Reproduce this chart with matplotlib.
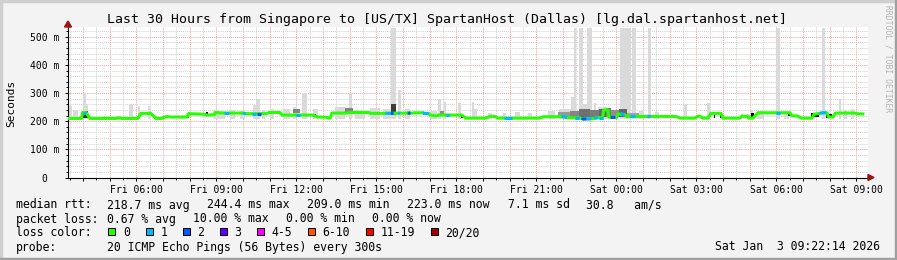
import numpy as np
import matplotlib
matplotlib.use("Agg")
import matplotlib.pyplot as plt
from matplotlib.patches import Rectangle, Polygon
from matplotlib.ticker import MultipleLocator, FuncFormatter

# time is in hours since Fri 00:00 (values above 24 are Saturday)
t_start = 3 + 26 / 60
t_end = t_start + 30

# median rtt (ms)
med_t = [3.43, 3.94, 3.98, 4.12, 4.18, 4.25, 5.25, 5.28, 5.40, 5.43, 6.05, 6.17, 6.54, 6.73,
         6.95, 7.01, 7.14, 7.25, 7.91, 7.95, 8.53, 8.64, 8.92, 8.96, 9.20, 9.99, 10.06, 10.89,
         10.96, 11.38, 11.46, 12.62, 12.80, 13.14, 13.21, 13.26, 13.33, 13.93, 13.96, 14.72,
         14.76, 15.35, 16.37, 16.41, 16.74, 16.78, 16.97, 17.01, 17.23, 17.31, 18.20, 18.35,
         19.07, 19.25, 19.44, 19.56, 21.09, 21.28, 22.05, 22.15, 22.60, 22.75, 23.10, 23.30,
         23.48, 23.52, 23.68, 23.72, 24.00, 24.06, 24.30, 24.38, 26.23, 26.38, 26.94, 27.06,
         27.13, 27.24, 27.43, 27.54, 27.92, 27.99, 28.63, 28.71, 28.82, 28.93, 28.96, 29.12,
         29.31, 30.51, 30.58, 30.77, 30.95, 31.33, 31.41, 31.63, 31.71, 31.89, 31.96, 32.12,
         32.21, 32.94, 33.01, 33.24]
med_v = [210, 210, 231, 231, 221, 210, 210, 212, 212, 210, 210, 228, 228, 210,
         210, 213, 217, 215, 215, 227, 225, 222, 223, 231, 229, 229, 227, 227,
         231, 231, 222, 222, 215, 214, 211, 211, 229, 229, 231, 231,
         228, 228, 229, 230, 230, 228, 227, 222, 219, 222, 222, 211,
         211, 217, 217, 211, 211, 216, 216, 212, 212, 208, 209, 213,
         213, 240, 240, 214, 213, 226, 224, 217, 217, 211, 211, 218,
         218, 211, 211, 228, 228, 211, 211, 219, 216, 219, 211, 211,
         230, 230, 219, 219, 211, 211, 225, 228, 230, 230, 215, 215,
         229, 229, 227, 226]

# periods with packet loss (number of lost pings out of 20)
loss_t0 = [3.98, 9.28, 9.99, 10.32, 10.51, 11.97, 15.34, 15.53, 15.79, 16.17, 16.73, 17.59,
           19.77, 21.94, 22.43, 22.69, 22.88, 23.17, 23.36, 23.78, 24.15, 24.52, 25.16, 29.99, 31.61]
loss_t1 = [4.12, 9.46, 10.10, 10.47, 10.66, 12.12, 15.53, 15.64, 15.87, 16.28, 16.96, 17.71,
           20.07, 22.13, 22.58, 22.88, 23.06, 23.30, 23.48, 23.96, 24.30, 24.71, 25.27, 30.14, 31.87]
loss_n = [1, 1, 1, 1, 2, 1, 1, 2, 1, 2, 1, 1,
          1, 1, 1, 2, 1, 1, 1, 2, 1, 1, 1, 1, 1]

# light smoke: spread of the 20 pings (top value, ms)
smoke_t0 = [3.43, 3.62, 3.99, 4.10, 5.72, 6.05, 6.43, 8.86, 9.05, 9.50, 9.87, 10.36, 10.47,
            10.70, 11.00, 11.49, 11.86, 12.20, 12.61, 13.43, 13.96, 14.18, 14.75, 15.23, 15.53,
            15.79, 16.06, 17.00, 17.29, 17.52, 18.04, 18.57, 18.64, 19.20, 19.73, 20.18, 20.67,
            21.42, 21.86, 22.31, 22.39, 22.61, 22.76, 22.88, 23.14, 23.29, 23.59, 24.15, 24.41,
            24.60, 24.86, 25.20, 25.43, 26.55, 27.41, 29.06, 29.28, 29.99, 30.29, 31.72, 32.36,
            32.54, 32.81]
smoke_t1 = [3.58, 3.80, 4.10, 4.18, 5.87, 6.13, 6.50, 9.05, 9.31, 9.69, 10.06, 10.47, 10.62,
            10.81, 11.15, 11.75, 12.01, 12.39, 12.80, 13.81, 14.07, 14.56, 15.12, 15.50, 15.72,
            15.91, 16.25, 17.26, 17.41, 17.59, 18.16, 18.64, 18.76, 19.32, 19.84, 20.37, 20.82,
            21.68, 22.31, 22.39, 22.50, 22.73, 22.88, 23.10, 23.25, 23.59, 23.81, 24.38, 24.53,
            24.75, 25.05, 25.31, 25.61, 26.66, 27.49, 29.13, 29.54, 30.14, 30.48, 31.83, 32.43,
            32.66, 32.92]
smoke_hi = [255, 240, 300, 262, 261, 254, 254, 239, 236, 240, 235, 258, 279,
            240, 244, 242, 250, 301, 245, 250, 300, 240, 246, 245, 532,
            311, 245, 238, 279, 270, 265, 270, 245, 230, 228, 232, 230,
            235, 245, 285, 532, 532, 260, 532, 265, 250, 245, 532, 532,
            532, 235, 532, 232, 261, 265, 240, 235, 532, 238, 532, 279,
            240, 245]

# denser smoke near the median (0 = light, 1 = black)
dense_t0 = [3.95, 11.86, 13.81, 15.53, 17.37,
            21.79, 22.24, 22.61, 22.99, 23.36, 23.59, 23.81, 24.11, 24.38,
            7.89, 8.60, 12.61, 13.10, 18.16, 27.64, 27.90, 29.06, 30.45, 31.31, 31.87]
dense_t1 = [4.18, 12.12, 14.11, 15.72, 17.52,
            22.24, 22.61, 22.99, 23.36, 23.59, 23.81, 24.11, 24.38, 24.86,
            7.96, 8.68, 12.72, 13.17, 18.23, 27.71, 27.97, 29.17, 30.56, 31.61, 32.10]
dense_lo = [212, 228, 230, 222, 226,
            212, 212, 214, 212, 214, 216, 214, 216, 216,
            213, 222, 215, 211, 212, 211, 211, 211, 219, 215, 213]
dense_hi = [238, 242, 246, 262, 238,
            232, 238, 242, 240, 245, 246, 240, 242, 230,
            228, 232, 224, 218, 222, 228, 228, 230, 230, 230, 227]
dense_level = [0.8, 0.4, 0.4, 0.75, 0.35,
               0.3, 0.4, 0.5, 0.45, 0.55, 0.45, 0.35, 0.55, 0.25,
               1.0, 1.0, 1.0, 1.0, 1.0, 1.0, 1.0, 1.0, 1.0, 1.0, 1.0]

loss_labels = ['0', '1', '2', '3', '4-5', '6-10', '11-19', '20/20']
loss_cols = ['#26ff00', '#00b8ff', '#0059ff', '#5e00ff', '#ff00ff', '#ff5500', '#ff0000', '#a00000']

title = 'Last 30 Hours from Singapore to [US/TX] SpartanHost (Dallas) [lg.dal.spartanhost.net]'
rtt_stats = ['218.7 ms avg', '244.4 ms max', '209.0 ms min', '223.0 ms now', '7.1 ms sd', '30.8   am/s']
loss_stats = ['0.67 % avg', '10.00 % max', '0.00 % min', '0.00 % now']
probe = '20 ICMP Echo Pings (56 Bytes) every 300s'
stamp = 'Sat Jan  3 09:22:14 2026'


def loss_color(n):
    if n <= 3:
        return loss_cols[n]
    if n <= 5:
        return loss_cols[4]
    if n <= 10:
        return loss_cols[5]
    if n <= 19:
        return loss_cols[6]
    return loss_cols[7]


W, H = 897, 260
fig = plt.figure(figsize=(W / 100, H / 100), dpi=100)
fig.patch.set_facecolor('#f3f3f3')
mono = 'DejaVu Sans Mono'


def fx(px):
    return px / W


def fy(py):
    return 1 - py / H


ax = fig.add_axes([fx(68), fy(177.5), 800 / W, 150.8 / H])
ax.set_facecolor('white')
ax.set_xlim(t_start, t_end)
ax.set_ylim(0, 536)
ax.set_axisbelow(True)

# grid
ax.yaxis.set_major_locator(MultipleLocator(100))
ax.yaxis.set_minor_locator(MultipleLocator(20))
ax.xaxis.set_major_locator(MultipleLocator(1))
ax.xaxis.set_minor_locator(MultipleLocator(0.5))
ax.grid(which='major', color='#f4a4a4', lw=0.75, ls=(0, (1, 1)))
ax.grid(which='minor', color='#d2d2d2', lw=0.75, ls=(0, (1, 1)))


def xfmt(v, pos):
    h = int(round(v))
    if h % 3:
        return ''
    day = 'Fri' if h < 24 else 'Sat'
    return '%s %02d:00' % (day, h % 24)


def yfmt(v, pos):
    if v == 0:
        return '0  '
    return '%d m' % v


ax.xaxis.set_major_formatter(FuncFormatter(xfmt))
ax.yaxis.set_major_formatter(FuncFormatter(yfmt))
ax.tick_params(axis='both', which='both', direction='out', color='black', width=0.7,
               labelsize=7, labelfontfamily=mono)
ax.tick_params(axis='both', which='major', length=2.2)
ax.tick_params(axis='both', which='minor', length=1.4)
ax.tick_params(axis='y', pad=4)
ax.tick_params(axis='x', pad=3)

for s in ['top', 'right']:
    ax.spines[s].set_visible(False)
for s in ['left', 'bottom']:
    ax.spines[s].set_color('black')
    ax.spines[s].set_linewidth(0.8)

# smoke
ax.bar(smoke_t0, np.subtract(smoke_hi, 207), width=np.subtract(smoke_t1, smoke_t0), bottom=207,
       align='edge', color='#dadada', lw=0, zorder=2)
dense_cols = [str(0.84 - 0.8 * d) for d in dense_level]
ax.bar(dense_t0, np.subtract(dense_hi, dense_lo), width=np.subtract(dense_t1, dense_t0),
       bottom=dense_lo, align='edge', color=dense_cols, lw=0, zorder=3)

# median line, coloured by loss
ax.plot(med_t, med_v, color=loss_cols[0], lw=2.2, zorder=4)
mt = np.array(med_t)
mv = np.array(med_v)
for a, b, n in zip(loss_t0, loss_t1, loss_n):
    inside = (mt > a) & (mt < b)
    xs = np.concatenate([[a], mt[inside], [b]])
    ax.plot(xs, np.interp(xs, mt, mv), color=loss_color(n), lw=2.2,
            solid_capstyle='butt', zorder=5)

# axis arrows
fig.add_artist(Polygon([[fx(64.5), fy(27)], [fx(71.5), fy(27)], [fx(68), fy(21)]],
                       closed=True, color='#a01010', transform=fig.transFigure))
fig.add_artist(Polygon([[fx(868), fy(174.5)], [fx(868), fy(180.5)], [fx(874), fy(177.5)]],
                       closed=True, color='#a01010', transform=fig.transFigure))

# texts
fig.text(fx(447), fy(23.3), title, ha='center', va='baseline', fontsize=9.5, family=mono)
fig.text(fx(11), fy(103), 'Seconds', rotation=90, ha='center', va='center', fontsize=8, family=mono)
fig.text(fx(888), fy(59), 'RRDTOOL / TOBI OETIKER', rotation=270, ha='center', va='center',
         fontsize=5.8, family=mono, color='#b4b4b4')

fs = 8.3
fig.text(fx(16), fy(208.5), 'median rtt:', fontsize=fs, family=mono, va='baseline')
for s, xp in zip(rtt_stats, [107.3, 207.3, 306.7, 406.7, 508.3, 586]):
    fig.text(fx(xp), fy(208.5), s, fontsize=fs, family=mono, va='baseline')

fig.text(fx(16), fy(222.5), 'packet loss:', fontsize=fs, family=mono, va='baseline')
for s, xp in zip(loss_stats, [107.3, 193.3, 286, 371.7]):
    fig.text(fx(xp), fy(222.5), s, fontsize=fs, family=mono, va='baseline')

fig.text(fx(16), fy(236.5), 'loss color:', fontsize=fs, family=mono, va='baseline')
box_x = [108.3, 145.7, 182.7, 220, 257.3, 307.7, 365.7, 430.7]
for lab, col, bx in zip(loss_labels, loss_cols, box_x):
    fig.add_artist(Rectangle((fx(bx), fy(235.3)), 7 / W, 7 / H, facecolor=col, edgecolor='black',
                             lw=0.7, transform=fig.transFigure))
    fig.text(fx(bx + 14.5), fy(236.5), lab, fontsize=fs, family=mono, va='baseline')

fig.text(fx(16), fy(250.5), 'probe:', fontsize=fs, family=mono, va='baseline')
fig.text(fx(107.3), fy(250.5), probe, fontsize=fs, family=mono, va='baseline')
fig.text(fx(880), fy(250.5), stamp, fontsize=fs, family=mono, va='baseline', ha='right')

# frame around the image
fig.add_artist(Rectangle((0, fy(2)), 1, 2 / H, color='#cfcfcf', transform=fig.transFigure))
fig.add_artist(Rectangle((0, 0), 2 / W, 1, color='#cfcfcf', transform=fig.transFigure))
fig.add_artist(Rectangle((0, 0), 1, 2 / H, color='#a0a0a0', transform=fig.transFigure))
fig.add_artist(Rectangle((fx(895), 0), 2 / W, 1, color='#a0a0a0', transform=fig.transFigure))

fig.savefig('out.png', dpi=100, facecolor=fig.get_facecolor())
